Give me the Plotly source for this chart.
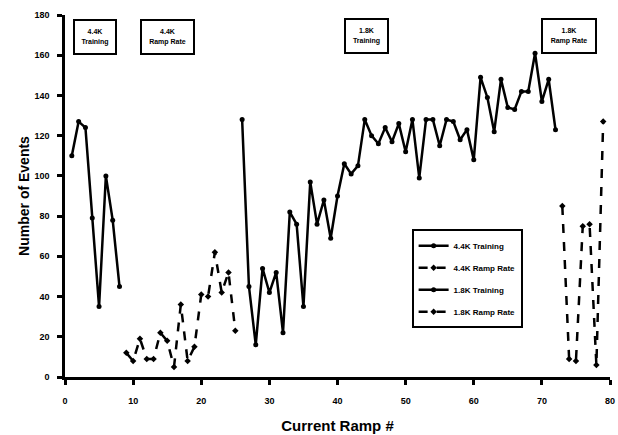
import plotly.graph_objects as go

# ---- data ----
x_44_train = [1, 2, 3, 4, 5, 6, 7, 8]
y_44_train = [110, 127, 124, 79, 35, 100, 78, 45]

x_44_ramp = list(range(9, 26))
y_44_ramp = [12, 8, 19, 9, 9, 22, 18, 5, 36, 8, 15, 41, 40, 62, 42, 52, 23]

x_18_train = list(range(26, 73))
y_18_train = [128, 45, 16, 54, 42, 52, 22, 82, 76, 35, 97, 76, 88, 69, 90,
              106, 101, 105, 128, 120, 116, 124, 117, 126, 112, 128, 99, 128,
              128, 115, 128, 127, 118, 123, 108, 149, 139, 122, 148, 134, 133,
              142, 142, 161, 137, 148, 123]

x_18_ramp = [73, 74, 75, 76, 77, 78, 79]
y_18_ramp = [85, 9, 8, 75, 76, 6, 127]

series_names = ["4.4K Training", "4.4K Ramp Rate", "1.8K Training", "1.8K Ramp Rate"]
box_labels = ["4.4K<br>Training", "4.4K<br>Ramp Rate", "1.8K<br>Training", "1.8K<br>Ramp Rate"]

FONT = "Liberation Sans"

fig = go.Figure()
specs = [
    (x_44_train, y_44_train, "solid", "circle"),
    (x_44_ramp, y_44_ramp, "dash", "diamond"),
    (x_18_train, y_18_train, "solid", "circle"),
    (x_18_ramp, y_18_ramp, "dash", "diamond"),
]
for i, (xs, ys, dash, sym) in enumerate(specs):
    fig.add_trace(go.Scatter(
        x=xs, y=ys, mode="lines+markers", name=series_names[i],
        legendgroup=f"g{i}",
        line=dict(color="black", width=2.5, dash=dash),
        marker=dict(color="black", size=5, symbol=sym),
    ))

# annotation boxes (paper coords)
box_pos = [(0.0547, 0.940, 38), (0.1884, 0.940, 49), (0.5523, 0.941, 39), (0.9242, 0.943, 50)]
for (bx, by, w), lab in zip(box_pos, box_labels):
    fig.add_annotation(
        x=bx, y=by, xref="paper", yref="paper", text=f"<b>{lab}</b>",
        showarrow=False, font=dict(family=FONT, size=7, color="black"),
        bordercolor="black", borderwidth=2, borderpad=1,
        width=w, height=30, bgcolor="white", xanchor="center", yanchor="middle",
    )

axis_common = dict(
    showgrid=False, zeroline=False, showline=True, linecolor="black", linewidth=2.5,
    ticks="outside", ticklen=5, tickwidth=2.5, tickcolor="black", automargin=False,
    tickfont=dict(family=FONT, size=9, color="black", weight="bold"),
)

fig.update_layout(
    width=618, height=435,
    margin=dict(l=65, r=8, t=15, b=58),
    paper_bgcolor="white", plot_bgcolor="white",
    showlegend=True,
    legend=dict(
        x=0.636, y=0.408, xanchor="left", yanchor="top",
        bordercolor="black", borderwidth=2, bgcolor="white",
        font=dict(family=FONT, size=8, color="black", weight="bold"),
        tracegroupgap=3,
    ),
    xaxis=dict(range=[0, 80], dtick=10, tick0=0, ticklabelstandoff=8,
               title=dict(text="Current Ramp #", font=dict(family=FONT, size=15, color="black", weight="bold"), standoff=16),
               **axis_common),
    yaxis=dict(range=[0, 180], dtick=20, tick0=0, ticklabelstandoff=6,
               title=dict(text="Number of Events", font=dict(family=FONT, size=14, color="black", weight="bold"), standoff=2),
               **axis_common),
)

fig.write_html("out.html", config={"displayModeBar": False},
               post_script="document.body.style.margin='0px';")
